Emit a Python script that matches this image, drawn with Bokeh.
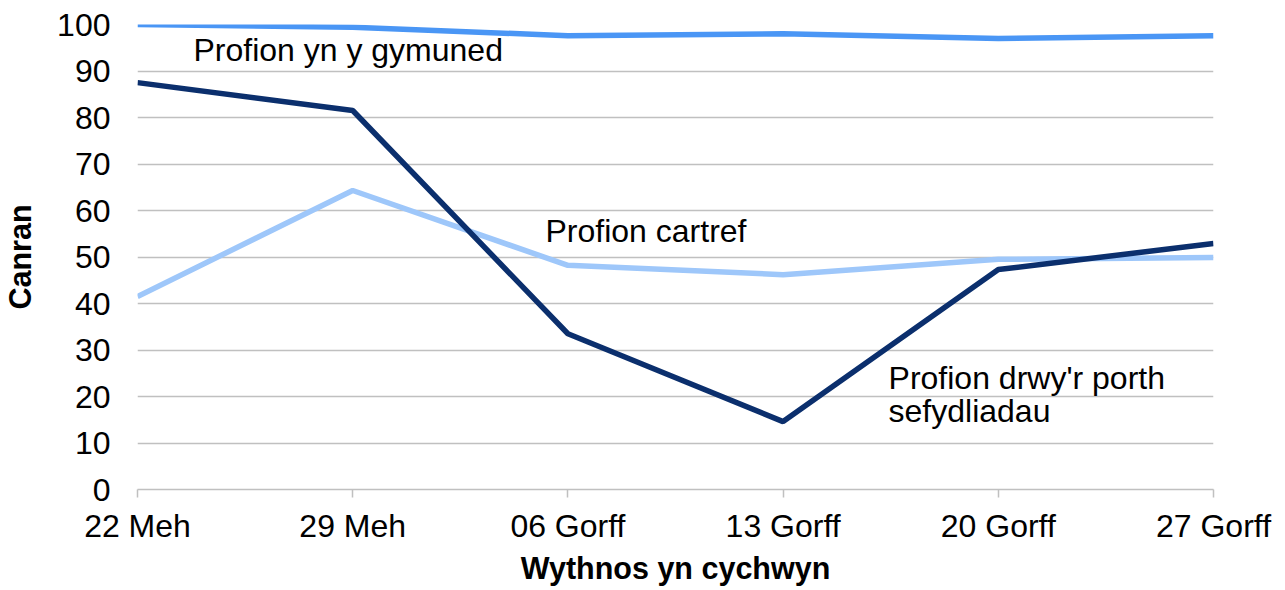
from bokeh.plotting import figure
from bokeh.models import FixedTicker, Range1d
from bokeh.embed import file_html
from bokeh.resources import INLINE
from bokeh.core.properties import value

weeks = ["22 Meh", "29 Meh", "06 Gorff", "13 Gorff", "20 Gorff", "27 Gorff"]
community = [100.0, 99.4, 97.6, 98.0, 97.0, 97.6]
portal = [87.5, 81.5, 33.5, 14.6, 47.3, 52.9]
home = [41.5, 64.3, 48.2, 46.2, 49.5, 49.9]

label_texts = ["Profion yn y gymuned", "Profion cartref", "Profion drwy'r porth", "sefydliadau"]
label_x = [0.26, 1.896, 3.49, 3.49]
label_y = [94.6, 55.5, 23.9, 16.8]

FONT = "Liberation Sans"
xs = list(range(len(weeks)))

p = figure(frame_width=1076, frame_height=465, width=1277, height=586,
           output_backend="svg", toolbar_location=None,
           x_range=Range1d(0, 5), y_range=Range1d(0, 100),
           min_border_left=137, min_border_right=64, min_border_top=24, min_border_bottom=97)
p.outline_line_color = None
p.background_fill_color = "white"
p.border_fill_color = "white"

p.xgrid.grid_line_color = None
p.ygrid.grid_line_color = "#c0c0c0"
p.ygrid.grid_line_width = 1.5
p.ygrid.ticker = FixedTicker(ticks=list(range(0, 101, 10)))

p.yaxis.ticker = FixedTicker(ticks=list(range(0, 101, 10)))
p.yaxis.axis_line_color = None
p.yaxis.major_tick_line_color = None
p.yaxis.minor_tick_line_color = None
p.yaxis.major_tick_out = 0
p.yaxis.major_label_standoff = 27
p.yaxis.axis_label = "Canran"
p.yaxis.axis_label_text_font_style = "bold"
p.yaxis.axis_label_standoff = 17

p.xaxis.ticker = FixedTicker(ticks=xs)
p.xaxis.major_label_overrides = {i: w for i, w in enumerate(weeks)}
p.xaxis.axis_line_color = "#c0c0c0"
p.xaxis.axis_line_width = 1.5
p.xaxis.major_tick_line_color = "#c0c0c0"
p.xaxis.major_tick_line_width = 1.5
p.xaxis.major_tick_in = 0
p.xaxis.major_tick_out = 8
p.xaxis.minor_tick_line_color = None
p.xaxis.major_label_standoff = 10
p.xaxis.axis_label = "Wythnos yn cychwyn"
p.xaxis.axis_label_text_font_style = "bold"
p.xaxis.axis_label_standoff = 4

for ax in (p.xaxis[0], p.yaxis[0]):
    ax.major_label_text_font = FONT
    ax.major_label_text_font_size = "32px"
    ax.major_label_text_color = "#000000"
    ax.axis_label_text_font = FONT
    ax.axis_label_text_font_size = "30.5px"
    ax.axis_label_text_color = "#000000"

p.line(xs, home, line_color="#9ec7fa", line_width=5.5)
p.line(xs, portal, line_color="#0b2f6d", line_width=5.5)
p.line(xs, community, line_color="#4a96f5", line_width=5.5)

p.text(x=label_x, y=label_y, text=label_texts, text_font=value(FONT),
       text_font_size="32px", text_color="#000000", text_align="left",
       text_baseline="middle")

open("out.html", "w").write(file_html(p, INLINE))
